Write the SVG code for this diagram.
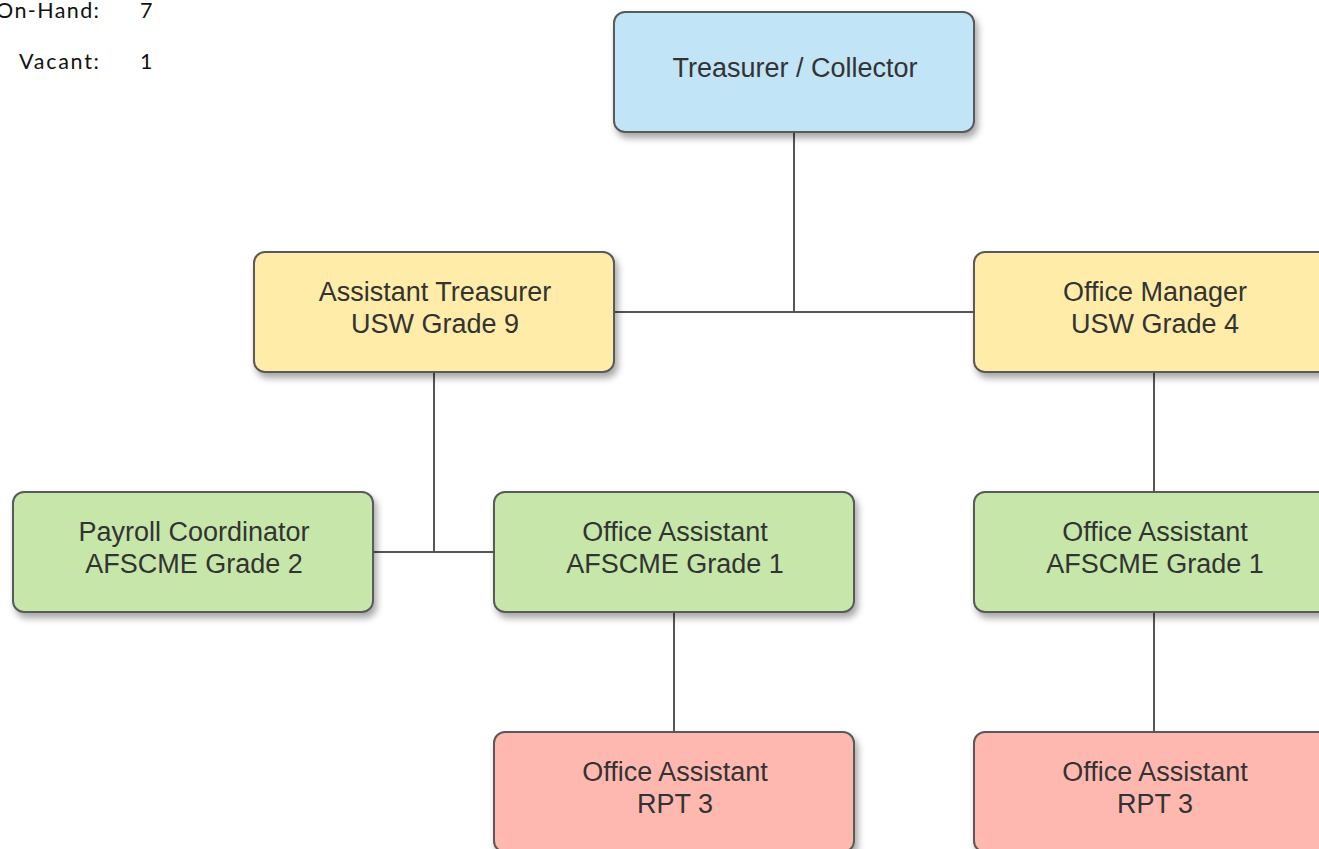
<svg xmlns="http://www.w3.org/2000/svg" width="1319" height="849" viewBox="0 0 1319 849">
<defs>
<filter id="sh" x="-10%" y="-10%" width="125%" height="140%">
<feDropShadow dx="3" dy="5" stdDeviation="3.5" flood-color="#000" flood-opacity="0.35"/>
</filter>
<style>
.box{stroke:#5a5a5a;stroke-width:2;filter:url(#sh)}
.blue{fill:#c1e4f6}
.yellow{fill:#ffeca8}
.green{fill:#c6e7a9}
.red{fill:#ffb8af}
.lbl{font-family:"Liberation Sans",Arial,sans-serif;font-size:27px;fill:#333;text-anchor:middle}
.conn line{stroke:#555;stroke-width:2}
.stat{font-family:Lato,"Open Sans",sans-serif;font-size:21.5px;fill:#111}
</style>
</defs>
<rect width="1319" height="849" fill="#fff"/>
<g id="stats">
<text class="stat" x="99" y="18" text-anchor="end" textLength="103">On-Hand:</text>
<text class="stat" x="140" y="18">7</text>
<text class="stat" x="99" y="69" text-anchor="end" textLength="80">Vacant:</text>
<text class="stat" x="140" y="69">1</text>
</g>
<g id="connectors" class="conn">
<line x1="794" y1="132" x2="794" y2="312"/>
<line x1="614" y1="312" x2="974" y2="312"/>
<line x1="434" y1="372" x2="434" y2="552"/>
<line x1="373" y1="552" x2="494" y2="552"/>
<line x1="1154" y1="372" x2="1154" y2="492"/>
<line x1="674" y1="612" x2="674" y2="732"/>
<line x1="1154" y1="612" x2="1154" y2="732"/>
</g>
<g id="treasurer">
<rect class="box blue" x="614" y="12" width="360" height="120" rx="11"/>
<text class="lbl" x="795" y="77">Treasurer / Collector</text>
</g>
<g id="asst-treasurer">
<rect class="box yellow" x="254" y="252" width="360" height="120" rx="11"/>
<text class="lbl" x="435" y="301">Assistant Treasurer</text>
<text class="lbl" x="435" y="333">USW Grade 9</text>
</g>
<g id="office-manager">
<rect class="box yellow" x="974" y="252" width="360" height="120" rx="11"/>
<text class="lbl" x="1155" y="301">Office Manager</text>
<text class="lbl" x="1155" y="333">USW Grade 4</text>
</g>
<g id="payroll">
<rect class="box green" x="13" y="492" width="360" height="120" rx="11"/>
<text class="lbl" x="194" y="541">Payroll Coordinator</text>
<text class="lbl" x="194" y="573">AFSCME Grade 2</text>
</g>
<g id="office-asst-1">
<rect class="box green" x="494" y="492" width="360" height="120" rx="11"/>
<text class="lbl" x="675" y="541">Office Assistant</text>
<text class="lbl" x="675" y="573">AFSCME Grade 1</text>
</g>
<g id="office-asst-2">
<rect class="box green" x="974" y="492" width="360" height="120" rx="11"/>
<text class="lbl" x="1155" y="541">Office Assistant</text>
<text class="lbl" x="1155" y="573">AFSCME Grade 1</text>
</g>
<g id="office-asst-rpt-1">
<rect class="box red" x="494" y="732" width="360" height="120" rx="11"/>
<text class="lbl" x="675" y="781">Office Assistant</text>
<text class="lbl" x="675" y="813">RPT 3</text>
</g>
<g id="office-asst-rpt-2">
<rect class="box red" x="974" y="732" width="360" height="120" rx="11"/>
<text class="lbl" x="1155" y="781">Office Assistant</text>
<text class="lbl" x="1155" y="813">RPT 3</text>
</g>
</svg>
